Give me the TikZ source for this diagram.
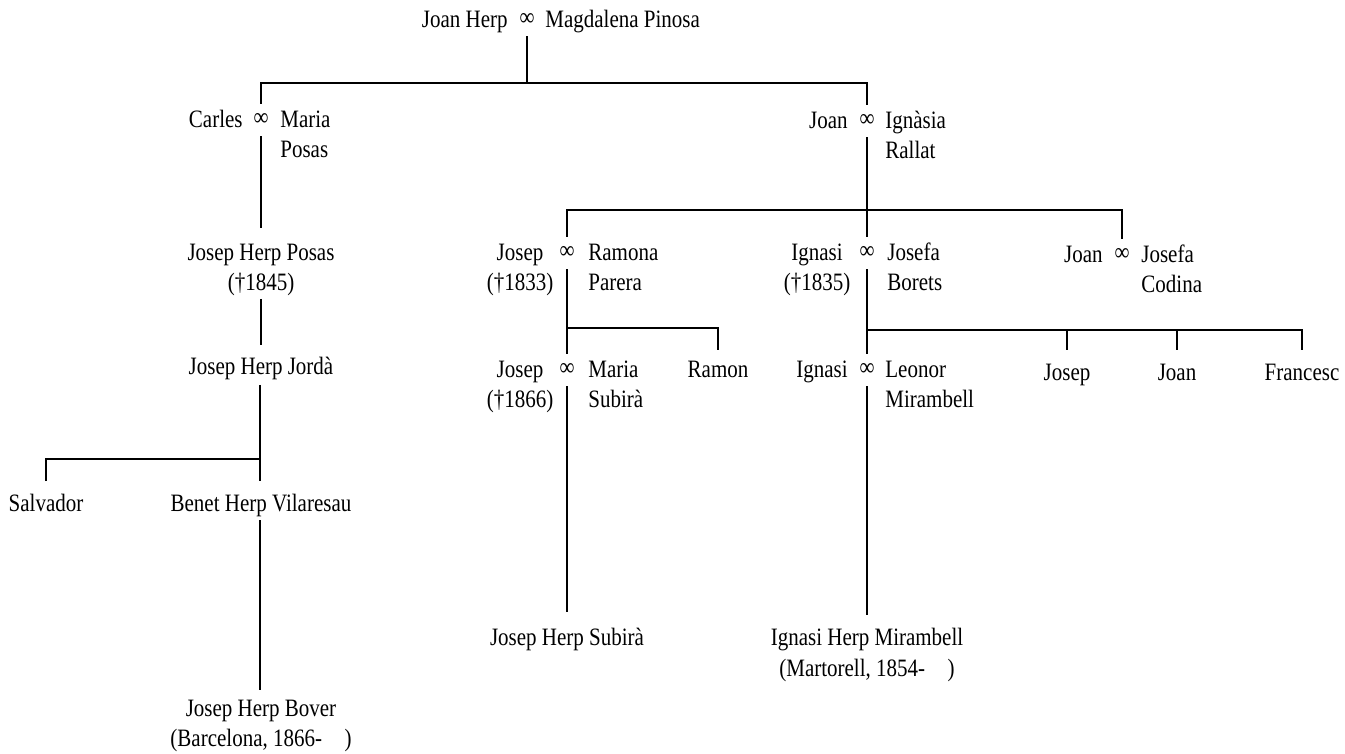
\documentclass[tikz,border=0pt]{standalone}
\usepackage{fontspec}
\setmainfont{Liberation Serif}[FakeStretch=0.84]
\begin{document}
\begin{tikzpicture}[x=0.5pt,y=-0.5pt,
  every node/.style={inner sep=0pt, font=\fontsize{12.5}{14}\selectfont},
  pname/.style={anchor=base},
  lname/.style={anchor=base east},
  rname/.style={anchor=base west},
  inf/.style={minimum height=16pt, anchor=center},
  link/.style={line width=0.8pt}]
\useasboundingbox (0,0) rectangle (1345,754);

% ---------- row 1
\node[inf] (m0) at (527,20) {∞};
\node[lname] (joanherp) at (508,28) {Joan Herp};
\node[rname] (magdalena) at (545,28) {Magdalena Pinosa};
\coordinate (b0) at (260,83);

% ---------- row 2
\node[inf] (m1) at (261,120) {∞};
\node[lname] (carles) at (243,128) {Carles};
\node[rname] (maria1) at (280,128) {Maria};
\node[rname] (posas) at (280,158) {Posas};

\node[inf] (m2) at (867,121) {∞};
\node[lname] (joan1) at (848,129) {Joan};
\node[rname] (ignasia) at (885,129) {Ignàsia};
\node[rname] (rallat) at (885,159) {Rallat};

% ---------- row 3
\node[pname] (jhposas) at (261,261) {Josep Herp Posas};
\node[pname] (d1845) at (261,291) {(†1845)};

\node[inf] (m3) at (567,253) {∞};
\node[pname] (josep1) at (520,261) {Josep};
\node[pname] (d1833) at (520,291) {(†1833)};
\node[rname] (ramona) at (588,261) {Ramona};
\node[rname] (parera) at (588,291) {Parera};

\node[inf] (m4) at (867,253) {∞};
\node[pname] (ignasi1) at (817,261) {Ignasi};
\node[pname] (d1835) at (817,291) {(†1835)};
\node[rname] (josefa1) at (887,261) {Josefa};
\node[rname] (borets) at (887,291) {Borets};

\node[inf] (m5) at (1122,255) {∞};
\node[lname] (joan2) at (1103,263) {Joan};
\node[rname] (josefa2) at (1141,263) {Josefa};
\node[rname] (codina) at (1141,293) {Codina};

\coordinate (b1) at (567,210);

% ---------- row 4
\node[pname] (jhjorda) at (261,375) {Josep Herp Jordà};

\node[inf] (m6) at (567,370) {∞};
\node[pname] (josep2) at (520,378) {Josep};
\node[pname] (d1866) at (520,408) {(†1866)};
\node[rname] (maria2) at (588,378) {Maria};
\node[rname] (subira) at (588,408) {Subirà};
\node[pname] (ramon) at (718,378) {Ramon};

\node[inf] (m7) at (867,370) {∞};
\node[lname] (ignasi2) at (848,378) {Ignasi};
\node[rname] (leonor) at (885,378) {Leonor};
\node[rname] (mirambell) at (885,408) {Mirambell};

\node[pname] (josep3) at (1067,380) {Josep};
\node[pname] (joan3) at (1177,380) {Joan};
\node[pname] (francesc) at (1302,380) {Francesc};

\coordinate (b2) at (567,328);
\coordinate (b3) at (867,330);
\coordinate (ramontop) at (718,350);
\coordinate (josep3top) at (1067,350);
\coordinate (joan3top) at (1177,350);
\coordinate (francesctop) at (1302,350);

% ---------- row 5
\node[pname] (salvador) at (46,511) {Salvador};
\node[pname] (benet) at (261,511) {Benet Herp Vilaresau};
\coordinate (b4) at (260,459);
\coordinate (salvtop) at (46,481);
\coordinate (benettop) at (260,481);
\coordinate (jordabot) at (260,385);

% ---------- row 6
\node[pname] (jhsubira) at (567,645) {Josep Herp Subirà};
\node[pname] (ihmirambell) at (867,645) {Ignasi Herp Mirambell};
\node[pname] (martorell) at (867,676) {(Martorell, 1854-\hspace{0.9em})};
\coordinate (subiratop) at (567,612);
\coordinate (mirambelltop) at (867,615);

% ---------- row 7
\node[pname] (jhbover) at (261,716) {Josep Herp Bover};
\node[pname] (barcelona) at (261,746) {(Barcelona, 1866-\hspace{0.9em})};
\coordinate (benetbot) at (260,520);
\coordinate (bovertop) at (260,690);

\coordinate (posasbot) at (261,228);
\coordinate (d1845bot) at (261,299);
\coordinate (jordatop) at (261,345);

% ---------- connectors
\draw[link] (m0.south) -- (m0 |- b0);
\draw[link] (m1.north) -- (m1 |- b0) -- (m2 |- b0) -- (m2.north);
\draw[link] (m1.south) -- (posasbot);
\draw[link] (d1845bot) -- (jordatop);
\draw[link] (m2.south) -- (m4.north);
\draw[link] (m3.north) -- (m3 |- b1) -- (m5 |- b1) -- (m5.north);
\draw[link] (m3.south) -- (m6.north);
\draw[link] (b2) -| (ramontop);
\draw[link] (m4.south) -- (m7.north);
\draw[link] (b3) -| (francesctop);
\draw[link] (josep3top) -- (josep3top |- b3);
\draw[link] (joan3top) -- (joan3top |- b3);
\draw[link] (jordabot) -- (benettop);
\draw[link] (salvtop) |- (b4);
\draw[link] (benetbot) -- (bovertop);
\draw[link] (m6.south) -- (subiratop);
\draw[link] (m7.south) -- (mirambelltop);
\end{tikzpicture}
\end{document}
